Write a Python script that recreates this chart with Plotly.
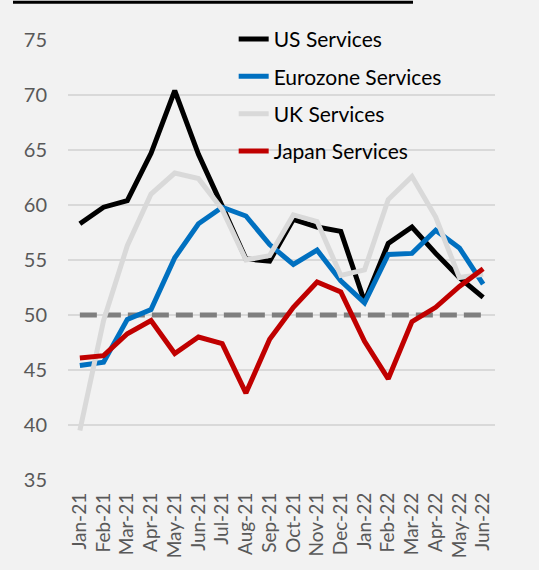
import plotly.graph_objects as go

months = ["Jan-21", "Feb-21", "Mar-21", "Apr-21", "May-21", "Jun-21", "Jul-21", "Aug-21",
          "Sep-21", "Oct-21", "Nov-21", "Dec-21", "Jan-22", "Feb-22", "Mar-22", "Apr-22",
          "May-22", "Jun-22"]
us = [58.3, 59.8, 60.4, 64.7, 70.4, 64.6, 59.9, 55.1, 54.9, 58.7, 58.0, 57.6, 51.2, 56.5, 58.0, 55.6, 53.4, 51.6]
eurozone = [45.4, 45.7, 49.6, 50.5, 55.2, 58.3, 59.8, 59.0, 56.4, 54.6, 55.9, 53.1, 51.1, 55.5, 55.6, 57.7, 56.1, 52.8]
uk = [39.5, 49.5, 56.3, 61.0, 62.9, 62.4, 59.6, 55.0, 55.4, 59.1, 58.5, 53.6, 54.1, 60.5, 62.6, 58.9, 53.4, 53.7]
japan = [46.1, 46.3, 48.3, 49.5, 46.5, 48.0, 47.4, 42.9, 47.8, 50.7, 53.0, 52.1, 47.6, 44.2, 49.4, 50.7, 52.6, 54.2]
threshold = [50] * len(months)
y_ticks = [35, 40, 45, 50, 55, 60, 65, 70, 75]

FONT = "Lato"
fig = go.Figure()
fig.add_trace(go.Scatter(x=months, y=threshold, mode="lines", showlegend=False,
                         line=dict(color="#7F7F7F", width=5, dash="17px,7px"), hoverinfo="skip"))
series = [("US Services", us, "#000000"), ("Eurozone Services", eurozone, "#0070C0"),
          ("UK Services", uk, "#D9D9D9"), ("Japan Services", japan, "#C00000")]
for i, (name, vals, col) in enumerate(series):
    fig.add_trace(go.Scatter(x=months, y=vals, mode="lines", name=name, legendgroup=f"g{i}",
                             line=dict(color=col, width=5)))

fig.update_layout(
    width=539, height=570,
    margin=dict(l=68, r=44, t=40, b=88),
    paper_bgcolor="#F2F2F2", plot_bgcolor="#F2F2F2",
    font=dict(family=FONT, color="#595959"),
    showlegend=True,
    legend=dict(x=0.388, y=1.048, xanchor="left", yanchor="top", bgcolor="rgba(0,0,0,0)",
                font=dict(size=21, color="#000000", family=FONT), tracegroupgap=7,
                itemwidth=30),
    xaxis=dict(type="category", range=[-0.5, len(months) - 0.5], tickangle=-90,
               tickfont=dict(size=19, color="#595959"),
               showgrid=False, showline=False, ticks="", ticklabelstandoff=8),
    yaxis=dict(range=[35, 75], tickvals=y_ticks, tickfont=dict(size=20, color="#595959"),
               showgrid=True, gridcolor="#D9D9D9", gridwidth=2, zeroline=False,
               showline=False, ticks="", ticklabelstandoff=20),
    shapes=[dict(type="line", xref="paper", yref="paper", x0=(13 - 68) / 427, x1=(413 - 68) / 427,
                 y0=(482 - 2) / 442, y1=(482 - 2) / 442, line=dict(color="#000000", width=3))],
)
fig.write_html("out.html")
